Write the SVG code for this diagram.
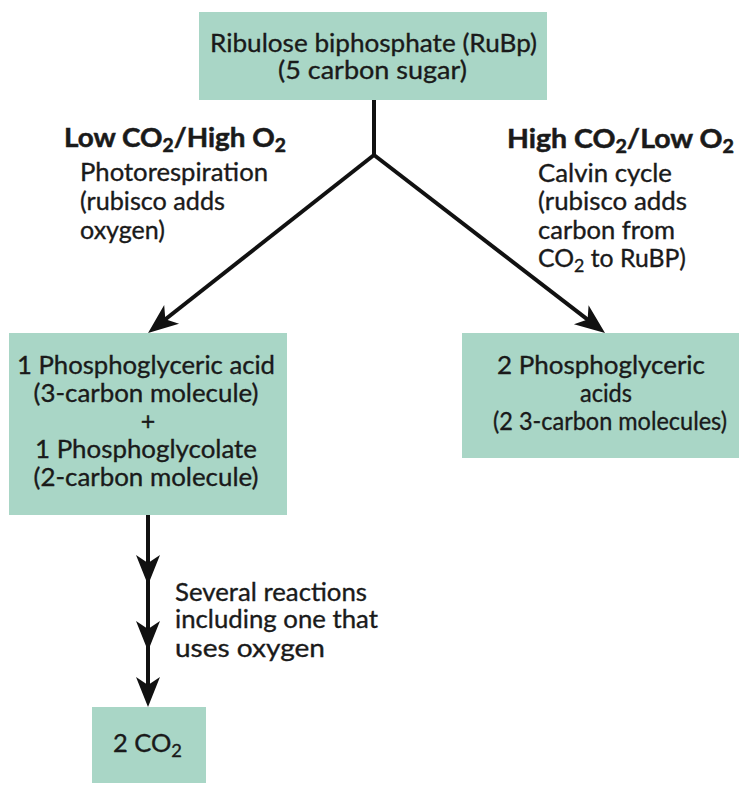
<svg xmlns="http://www.w3.org/2000/svg" width="756" height="790" viewBox="0 0 756 790">
<defs>
<style>
.box{fill:#a9d6c6;}
.t{font-family:Lato,"Liberation Sans",Arial,sans-serif;font-size:25px;fill:#1a1a1a;stroke:#1a1a1a;stroke-width:0.35;}
.b{font-weight:700;font-size:26px;stroke-width:0.5;}
.c{fill:none;stroke:#111;stroke-width:4;}
</style>
<marker id="ah" markerUnits="userSpaceOnUse" viewBox="-30 -15 42 30" markerWidth="42" markerHeight="30" refX="0" refY="0" orient="auto">
<path d="M10,0 L-20,-12 L-12,0 L-20,12 Z" fill="#111"/>
</marker>
</defs>
<rect width="756" height="790" fill="#fff"/>
<g id="connectors">
<path class="c" d="M374,100 L374,155"/>
<path class="c" d="M374,155 L155.9,326.8" marker-end="url(#ah)"/>
<path class="c" d="M374,155 L597.1,326.9" marker-end="url(#ah)"/>
<polyline class="c" points="148,515 148,575 148,641 148,697" marker-mid="url(#ah)" marker-end="url(#ah)"/>
</g>
<g id="rubp">
<rect class="box" x="199" y="12" width="348" height="88"/>
<text class="t" x="373.5" y="52" text-anchor="middle" textLength="327" lengthAdjust="spacingAndGlyphs">Ribulose biphosphate (RuBp)</text>
<text class="t" x="372.5" y="79" text-anchor="middle" textLength="189" lengthAdjust="spacingAndGlyphs">(5 carbon sugar)</text>
</g>
<g id="label-low">
<text class="t b" x="64" y="147" textLength="222" lengthAdjust="spacingAndGlyphs">Low CO<tspan font-size="18" dy="5">2</tspan><tspan dy="-5">/High O</tspan><tspan font-size="18" dy="5">2</tspan></text>
<text class="t" x="80" y="181" textLength="188" lengthAdjust="spacingAndGlyphs">Photorespiration</text>
<text class="t" x="80" y="210" textLength="145" lengthAdjust="spacingAndGlyphs">(rubisco adds</text>
<text class="t" x="80" y="239" textLength="85" lengthAdjust="spacingAndGlyphs">oxygen)</text>
</g>
<g id="label-high">
<text class="t b" x="507" y="148" textLength="227" lengthAdjust="spacingAndGlyphs">High CO<tspan font-size="18" dy="5">2</tspan><tspan dy="-5">/Low O</tspan><tspan font-size="18" dy="5">2</tspan></text>
<text class="t" x="538" y="182" textLength="134" lengthAdjust="spacingAndGlyphs">Calvin cycle</text>
<text class="t" x="538" y="210" textLength="149" lengthAdjust="spacingAndGlyphs">(rubisco adds</text>
<text class="t" x="538" y="239" textLength="137" lengthAdjust="spacingAndGlyphs">carbon from</text>
<text class="t" x="538" y="267" textLength="148" lengthAdjust="spacingAndGlyphs">CO<tspan font-size="18" dy="5">2</tspan><tspan dy="-5"> to RuBP)</tspan></text>
</g>
<g id="pga-left">
<rect class="box" x="9" y="333" width="278" height="182"/>
<text class="t" x="146" y="374" text-anchor="middle" textLength="258" lengthAdjust="spacingAndGlyphs">1 Phosphoglyceric acid</text>
<text class="t" x="146" y="402" text-anchor="middle" textLength="225" lengthAdjust="spacingAndGlyphs">(3-carbon molecule)</text>
<text class="t" x="148" y="430" text-anchor="middle">+</text>
<text class="t" x="146" y="458" text-anchor="middle" textLength="222" lengthAdjust="spacingAndGlyphs">1 Phosphoglycolate</text>
<text class="t" x="146" y="486" text-anchor="middle" textLength="225" lengthAdjust="spacingAndGlyphs">(2-carbon molecule)</text>
</g>
<g id="pga-right">
<rect class="box" x="462" y="333" width="277" height="125"/>
<text class="t" x="601" y="374" text-anchor="middle" textLength="208" lengthAdjust="spacingAndGlyphs">2 Phosphoglyceric</text>
<text class="t" x="606" y="402" text-anchor="middle" textLength="52" lengthAdjust="spacingAndGlyphs">acids</text>
<text class="t" x="610" y="430" text-anchor="middle" textLength="234" lengthAdjust="spacingAndGlyphs">(2 3-carbon molecules)</text>
</g>
<g id="reactions-label">
<text class="t" x="175" y="601" textLength="192" lengthAdjust="spacingAndGlyphs">Several reactions</text>
<text class="t" x="175" y="628" textLength="203" lengthAdjust="spacingAndGlyphs">including one that</text>
<text class="t" x="175" y="657" textLength="150" lengthAdjust="spacingAndGlyphs">uses oxygen</text>
</g>
<g id="co2">
<rect class="box" x="92" y="707" width="114" height="76"/>
<text class="t" x="113" y="752" textLength="69" lengthAdjust="spacingAndGlyphs">2 CO<tspan font-size="18" dy="5">2</tspan></text>
</g>
</svg>
